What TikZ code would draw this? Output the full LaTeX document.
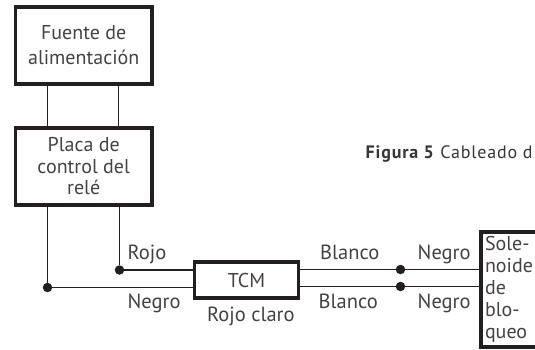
\documentclass[tikz,border=0pt]{standalone}
\usepackage{fontspec}
\setmainfont{PT Sans}
\newfontfamily\capfont{PT Sans}[LetterSpace=4.5]
\definecolor{ink}{HTML}{231F20}
\tikzset{
  thickbox/.style={draw=ink,line width=3.8pt,outer sep=0pt,inner sep=0pt,align=center,text=ink!85,font=\fontsize{20}{24.8}\selectfont},
  wire/.style={draw=ink,line width=1.1pt},
  dot/.style={circle,fill=ink,inner sep=0pt,minimum size=9.5pt},
  lab/.style={text=ink!85,font=\fontsize{20.5}{24}\selectfont,inner sep=0pt}
}
\begin{document}
\begin{tikzpicture}[x=1pt,y=-1pt]
\useasboundingbox (0,0) rectangle (535,349);
\clip (0,0) rectangle (535,349);
\node[thickbox,minimum width=136.5pt,minimum height=77pt] (fuente) at (83.7,45.5) {Fuente de\\alimentación};
\node[thickbox,minimum width=136.5pt,minimum height=76.5pt,font=\fontsize{20}{21.5}\selectfont] (placa) at (83.7,166.5) {Placa de\\control del\\relé};
\node[thickbox,minimum width=104pt,minimum height=36.5pt] (tcm) at (246.5,280) {TCM};
\node[thickbox,anchor=north west,minimum width=80pt,minimum height=115pt,align=left,text width=72pt,inner sep=4pt,font=\fontsize{20}{22}\selectfont] (sol) at (481,232) {Sole-\\noide\\de\\blo-\\queo};
\node[dot] (dr) at (119.5,270) {};
\node[dot] (dn) at (47.5,287.5) {};
\node[dot] (d1) at (400.5,269.5) {};
\node[dot] (d2) at (400.5,286.5) {};
\coordinate (f1) at (47.5,84); \coordinate (p1) at (47.5,128);
\coordinate (f2) at (118.5,84); \coordinate (p2) at (118.5,128);
\draw[wire] (f1) -- (p1);
\draw[wire] (f2) -- (p2);
\draw[wire] (dn) -- (dn |- placa.south);
\draw[wire] (dr) -- (dr |- placa.south);
\draw[wire] (dr) -- (dr -| tcm.west);
\draw[wire] (dn) -- (dn -| tcm.west);
\draw[wire] (d1 -| tcm.east) -- (d1) -- (d1 -| sol.west);
\draw[wire] (d2 -| tcm.east) -- (d2) -- (d2 -| sol.west);
\node[lab,anchor=base west] (rojo) at (127.5,259.5) {Rojo};
\node[lab,anchor=base west] (negro1) at (127.5,308.5) {Negro};
\node[lab,anchor=base west] (rojoc) at (207,321) {Rojo claro};
\node[lab,anchor=base west] (bl1) at (320,259.5) {Blanco};
\node[lab,anchor=base west] (bl2) at (318.5,308.5) {Blanco};
\node[lab,anchor=base west] (ne1) at (417.5,259.5) {Negro};
\node[lab,anchor=base west] (ne2) at (417.5,308.5) {Negro};
\node[anchor=base west,inner sep=0pt,text=ink!90,font=\capfont\fontsize{18}{20}\selectfont] (cap) at (365.5,158) {\textbf{Figura 5} Cableado d};
\end{tikzpicture}
\end{document}
